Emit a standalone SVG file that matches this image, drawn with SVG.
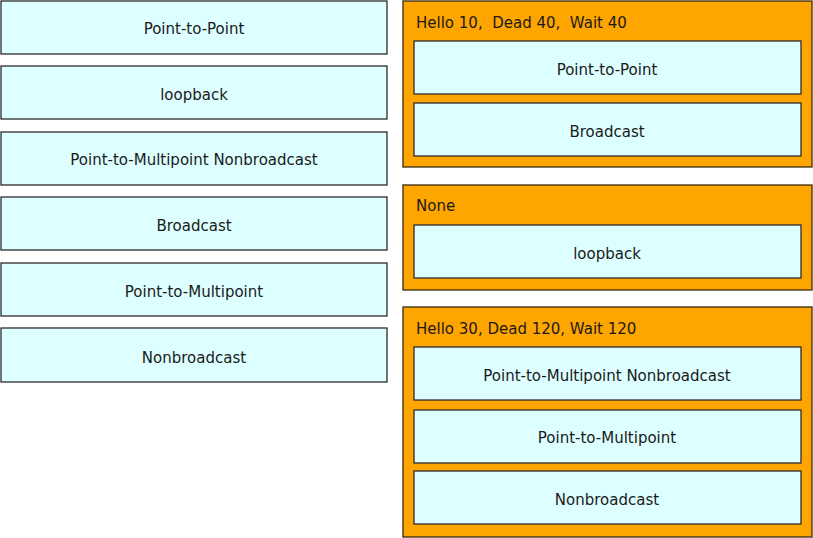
<svg xmlns="http://www.w3.org/2000/svg" width="813" height="538" viewBox="0 0 813 538">
<style>
.item{fill:#ddffff;stroke:#2b2b2b;stroke-width:1.3}
.grp{fill:#ffa500;stroke:#3a2a10;stroke-width:1.3}
text{font-family:"DejaVu Sans",Verdana,sans-serif;font-size:15px;fill:#1a1a1a}
.c{text-anchor:middle}
</style>
<rect width="813" height="538" fill="#ffffff"/>
<g id="left">
<g id="l1"><rect class="item" x="1" y="1" width="386" height="53"/><text class="c" x="194" y="34">Point-to-Point</text></g>
<g id="l2"><rect class="item" x="1" y="66" width="386" height="53"/><text class="c" x="194" y="100">loopback</text></g>
<g id="l3"><rect class="item" x="1" y="132" width="386" height="53"/><text class="c" x="194" y="165">Point-to-Multipoint Nonbroadcast</text></g>
<g id="l4"><rect class="item" x="1" y="197" width="386" height="53"/><text class="c" x="194" y="231">Broadcast</text></g>
<g id="l5"><rect class="item" x="1" y="263" width="386" height="53"/><text class="c" x="194" y="297">Point-to-Multipoint</text></g>
<g id="l6"><rect class="item" x="1" y="328" width="386" height="54"/><text class="c" x="194" y="363">Nonbroadcast</text></g>
</g>
<g id="g1">
<rect class="grp" x="403" y="1" width="409" height="166"/>
<text x="416" y="28" xml:space="preserve">Hello 10,  Dead 40,  Wait 40</text>
<g id="g1a"><rect class="item" x="414" y="41" width="387" height="53"/><text class="c" x="607" y="75">Point-to-Point</text></g>
<g id="g1b"><rect class="item" x="414" y="103" width="387" height="53"/><text class="c" x="607" y="137">Broadcast</text></g>
</g>
<g id="g2">
<rect class="grp" x="403" y="185" width="409" height="105"/>
<text x="416" y="211">None</text>
<g id="g2a"><rect class="item" x="414" y="225" width="387" height="53"/><text class="c" x="607" y="259">loopback</text></g>
</g>
<g id="g3">
<rect class="grp" x="403" y="307" width="409" height="230"/>
<text x="416" y="334">Hello 30, Dead 120, Wait 120</text>
<g id="g3a"><rect class="item" x="414" y="347" width="387" height="53"/><text class="c" x="607" y="381">Point-to-Multipoint Nonbroadcast</text></g>
<g id="g3b"><rect class="item" x="414" y="410" width="387" height="53"/><text class="c" x="607" y="443">Point-to-Multipoint</text></g>
<g id="g3c"><rect class="item" x="414" y="471" width="387" height="53"/><text class="c" x="607" y="505">Nonbroadcast</text></g>
</g>
<g id="connectors"/>
</svg>
